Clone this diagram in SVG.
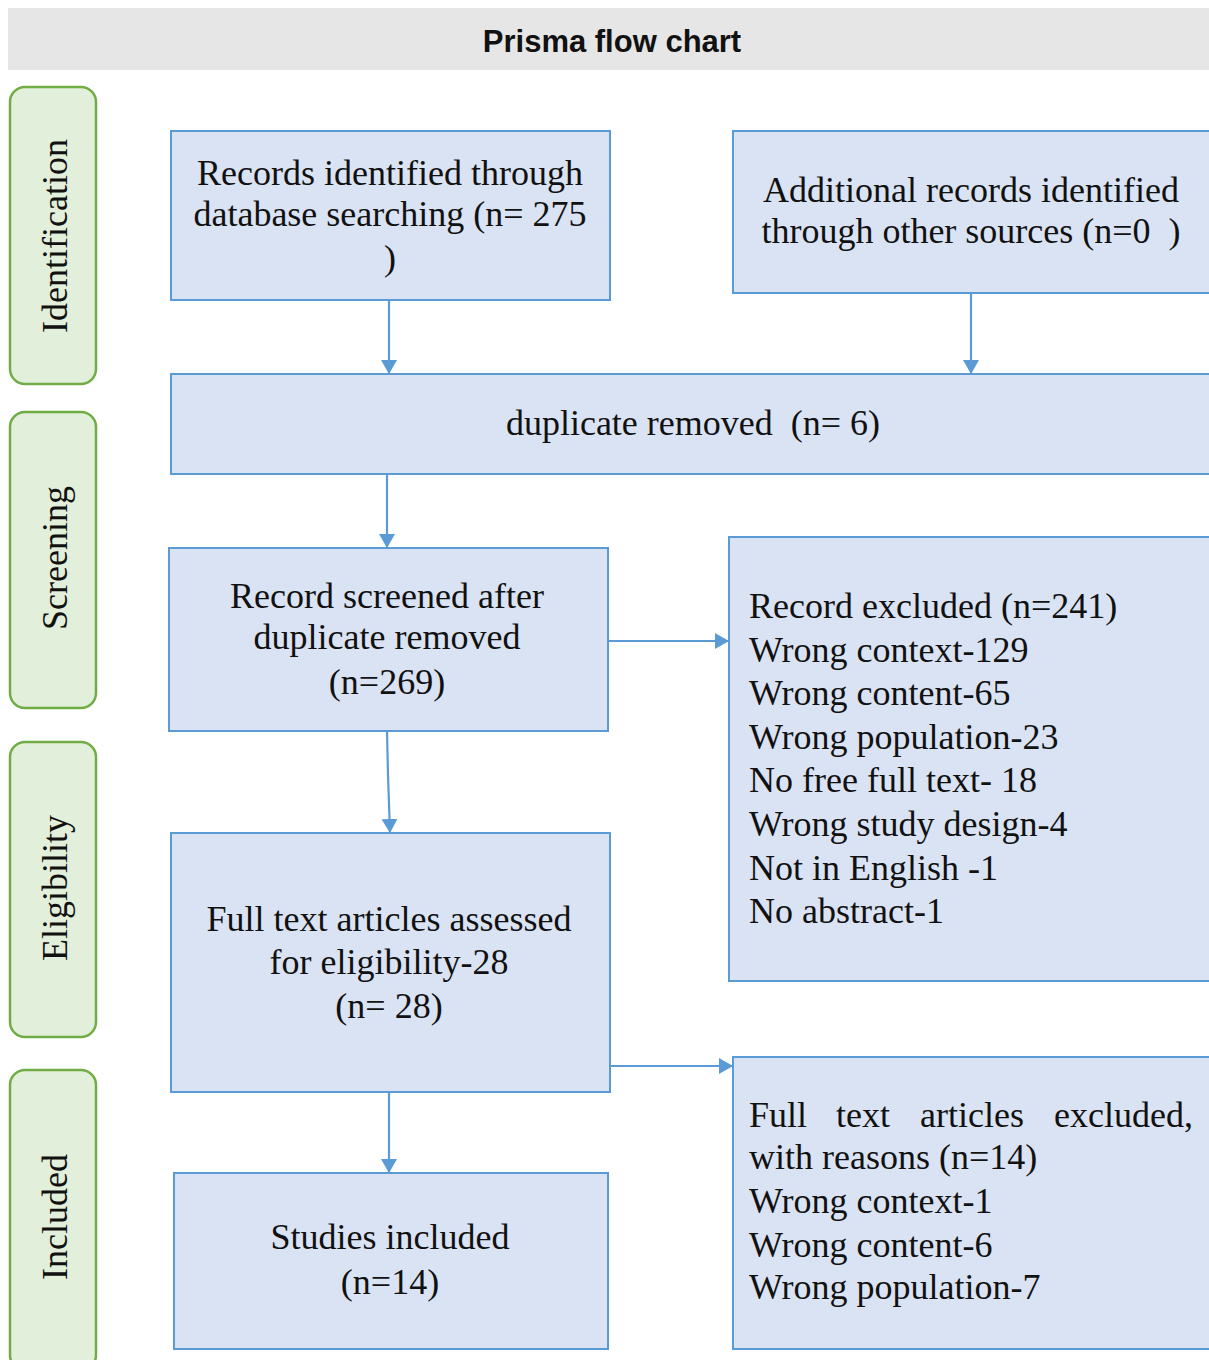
<svg xmlns="http://www.w3.org/2000/svg" width="1209" height="1360" viewBox="0 0 1209 1360">
<defs>
<style>
.box{fill:#dae3f3;stroke:#5b9bd5;stroke-width:2}
.side{fill:#e2efda;stroke:#70ad47;stroke-width:2.5}
.t{font-family:"Liberation Serif","Times New Roman",serif;font-size:36px;fill:#111}
.c{text-anchor:middle}
.title{font-family:"Liberation Sans",Arial,sans-serif;font-weight:bold;font-size:31px;fill:#111;text-anchor:middle}
.conn{stroke:#5b9bd5;stroke-width:2.2;fill:none;marker-end:url(#ah)}
</style>
<marker id="ah" viewBox="0 0 14 16" refX="14" refY="8" markerWidth="14" markerHeight="16" markerUnits="userSpaceOnUse" orient="auto">
<path d="M0,0 L14,8 L0,16 Z" fill="#5b9bd5"/>
</marker>
</defs>
<rect x="0" y="0" width="1209" height="1360" fill="#ffffff"/>
<g id="header">
<rect x="8" y="8" width="1201" height="62" fill="#e7e6e6"/>
<text class="title" x="612" y="52">Prisma flow chart</text>
</g>
<g id="stage-identification">
<rect class="side" x="10" y="87" width="86" height="297" rx="15"/>
<text class="t c" transform="translate(67,236) rotate(-90)">Identification</text>
</g>
<g id="stage-screening">
<rect class="side" x="10" y="412" width="86" height="296" rx="15"/>
<text class="t c" transform="translate(67,558) rotate(-90)">Screening</text>
</g>
<g id="stage-eligibility">
<rect class="side" x="10" y="742" width="86" height="295" rx="15"/>
<text class="t c" transform="translate(67,888) rotate(-90)">Eligibility</text>
</g>
<g id="stage-included">
<rect class="side" x="10" y="1070" width="86" height="300" rx="15"/>
<text class="t c" transform="translate(67,1217) rotate(-90)">Included</text>
</g>
<g id="n-database">
<rect class="box" x="171" y="131" width="439" height="169"/>
<text class="t c" x="390" y="185">Records identified through</text>
<text class="t c" x="390" y="226">database searching (n= 275</text>
<text class="t c" x="390" y="270">)</text>
</g>
<g id="n-other">
<rect class="box" x="733" y="131" width="480" height="162"/>
<text class="t c" x="971" y="202">Additional records identified</text>
<text class="t c" x="971" y="243" xml:space="preserve">through other sources (n=0  )</text>
</g>
<g id="n-duplicates">
<rect class="box" x="171" y="374" width="1042" height="100"/>
<text class="t c" x="693" y="435" xml:space="preserve">duplicate removed  (n= 6)</text>
</g>
<g id="n-screened">
<rect class="box" x="169" y="548" width="439" height="183"/>
<text class="t c" x="387" y="608">Record screened after</text>
<text class="t c" x="387" y="649">duplicate removed</text>
<text class="t c" x="387" y="694">(n=269)</text>
</g>
<g id="n-excluded">
<rect class="box" x="729" y="537" width="484" height="444"/>
<text class="t" x="749" y="618">Record excluded (n=241)</text>
<text class="t" x="749" y="662">Wrong context-129</text>
<text class="t" x="749" y="705">Wrong content-65</text>
<text class="t" x="749" y="749">Wrong population-23</text>
<text class="t" x="749" y="792">No free full text- 18</text>
<text class="t" x="749" y="836">Wrong study design-4</text>
<text class="t" x="749" y="880">Not in English -1</text>
<text class="t" x="749" y="923">No abstract-1</text>
</g>
<g id="n-fulltext">
<rect class="box" x="171" y="833" width="439" height="259"/>
<text class="t c" x="389" y="931">Full text articles assessed</text>
<text class="t c" x="389" y="974">for eligibility-28</text>
<text class="t c" x="389" y="1018">(n= 28)</text>
</g>
<g id="n-ft-excluded">
<rect class="box" x="733" y="1057" width="480" height="292"/>
<text class="t" y="1127"><tspan x="749">Full</tspan><tspan x="836">text</tspan><tspan x="920">articles</tspan><tspan x="1054">excluded,</tspan></text>
<text class="t" x="749" y="1169">with reasons (n=14)</text>
<text class="t" x="749" y="1213">Wrong context-1</text>
<text class="t" x="749" y="1257">Wrong content-6</text>
<text class="t" x="749" y="1299">Wrong population-7</text>
</g>
<g id="n-included">
<rect class="box" x="174" y="1173" width="434" height="176"/>
<text class="t c" x="390" y="1249">Studies included</text>
<text class="t c" x="390" y="1294">(n=14)</text>
</g>
<g id="connectors">
<path class="conn" d="M389,300 L389,374"/>
<path class="conn" d="M971,293 L971,374"/>
<path class="conn" d="M387,474 L387,548"/>
<path class="conn" d="M608,641 L729,641"/>
<path class="conn" d="M387,731 L388,775 L390,833"/>
<path class="conn" d="M610,1066 L733,1066"/>
<path class="conn" d="M389,1092 L389,1173"/>
</g>
</svg>
